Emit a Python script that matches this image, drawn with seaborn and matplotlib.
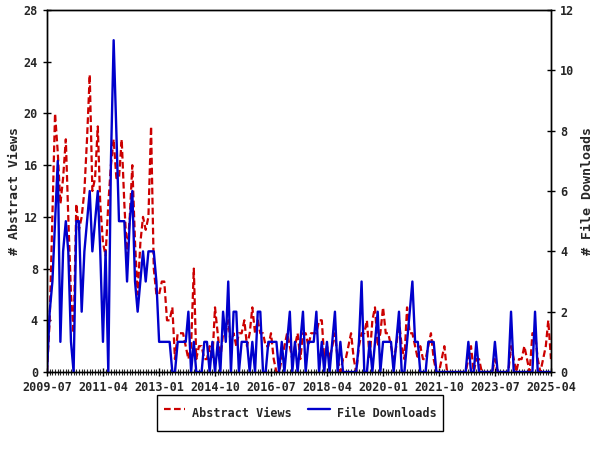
import matplotlib
matplotlib.use('Agg')
import matplotlib.pyplot as plt
import seaborn as sns
import pandas as pd

# monthly counts, 2009-07 .. 2025-04 (190 months)
views = [0, 4, 12, 20, 17, 13, 15, 18, 12, 6,
         3, 13, 11, 12, 14, 18, 23, 14, 15, 19,
         13, 10, 9, 13, 16, 18, 15, 15, 18, 13,
         9, 12, 16, 10, 6, 10, 12, 11, 12, 19,
         8, 6, 6, 7, 7, 4, 4, 5, 1, 3,
         3, 3, 2, 1, 2, 8, 1, 2, 2, 1,
         1, 2, 1, 5, 3, 1, 3, 3, 4, 2,
         3, 2, 3, 3, 4, 2, 3, 5, 3, 4,
         3, 3, 2, 2, 3, 1, 0, 0, 1, 2,
         3, 2, 1, 2, 3, 1, 3, 3, 2, 3,
         3, 3, 4, 4, 1, 2, 1, 2, 3, 1,
         0, 1, 1, 2, 3, 1, 0, 2, 3, 3,
         4, 1, 4, 5, 2, 3, 5, 3, 3, 2,
         1, 2, 4, 2, 1, 5, 3, 3, 2, 1,
         2, 1, 1, 2, 3, 1, 0, 0, 1, 2,
         0, 0, 0, 0, 0, 0, 0, 0, 1, 2,
         0, 1, 1, 0, 0, 0, 0, 0, 1, 0,
         0, 0, 0, 0, 2, 1, 0, 1, 1, 2,
         1, 0, 3, 3, 1, 0, 1, 2, 4, 1]

downloads = [0, 2, 3, 5, 7, 1, 4, 5, 4, 1,
             0, 5, 5, 2, 4, 5, 6, 4, 5, 6,
             4, 1, 4, 0, 7, 11, 8, 5, 5, 5,
             3, 5, 6, 3, 2, 3, 4, 3, 4, 4,
             4, 3, 1, 1, 1, 1, 1, 0, 0, 1,
             1, 1, 1, 2, 0, 1, 0, 0, 0, 1,
             1, 0, 1, 0, 1, 0, 2, 1, 3, 0,
             2, 2, 0, 1, 1, 1, 0, 1, 0, 2,
             2, 0, 0, 1, 1, 1, 1, 0, 1, 0,
             1, 2, 0, 1, 0, 1, 2, 0, 1, 1,
             1, 2, 0, 1, 0, 1, 0, 1, 2, 0,
             1, 0, 0, 0, 0, 0, 0, 1, 3, 0,
             0, 1, 0, 1, 2, 0, 1, 1, 1, 1,
             0, 1, 2, 0, 0, 1, 2, 3, 1, 1,
             0, 0, 0, 1, 1, 1, 0, 0, 0, 0,
             0, 0, 0, 0, 0, 0, 0, 0, 1, 0,
             0, 1, 0, 0, 0, 0, 0, 0, 1, 0,
             0, 0, 0, 0, 2, 0, 0, 0, 0, 0,
             0, 0, 0, 2, 0, 0, 0, 0, 0, 0]

series_names = ['Abstract Views', 'File Downloads']
views_ticks = [0, 4, 8, 12, 16, 20, 24, 28]
downloads_ticks = [0, 2, 4, 6, 8, 10, 12]

months = pd.date_range('2009-07-01', periods=len(views), freq='MS')
df = pd.DataFrame({'month': months, 'views': views, 'downloads': downloads})

sns.set_style('ticks')
plt.rcParams['font.family'] = ['DejaVu Sans Mono']
plt.rcParams['font.weight'] = 'bold'
plt.rcParams['axes.labelweight'] = 'bold'

fig = plt.figure(figsize=(6, 4.5), dpi=100)
ax = fig.add_axes([0.0783, 0.1733, 0.84, 0.8044])
sns.lineplot(data=df, x='month', y='views', ax=ax, color='#cc0000',
             lw=1.6, linestyle=(0, (3, 1.5)))
ax2 = ax.twinx()
sns.lineplot(data=df, x='month', y='downloads', ax=ax2, color='#0000cc', lw=1.7)

ax.set_xlim(months[0], months[-1])
ax.set_ylim(0, 28)
ax2.set_ylim(0, 12)
ax.set_yticks(views_ticks)
ax2.set_yticks(downloads_ticks)
major = months[::21]
ax.set_xticks(major)
ax.set_xticklabels([m.strftime('%Y-%m') for m in major])
ax.set_xticks(months, minor=True)

for a in (ax, ax2):
    a.tick_params(axis='both', which='major', direction='inout', length=6,
                  width=1, labelsize=8.5, color='black')
    a.tick_params(axis='x', which='minor', direction='inout', length=4, width=0.8)
    for s in a.spines.values():
        s.set_visible(True)
        s.set_color('black')
        s.set_linewidth(1)

ax.set_xlabel('')
ax2.set_xlabel('')
ax.set_ylabel('# ' + series_names[0], fontsize=9.5, labelpad=2)
ax2.set_ylabel('# ' + series_names[1], fontsize=9.5, labelpad=5)

leg = fig.legend([ax.lines[0], ax2.lines[0]], series_names, loc='lower center',
                 bbox_to_anchor=(0.5, 0.029), ncol=2, frameon=True, fancybox=False,
                 edgecolor='black', framealpha=1, handlelength=1.8, handletextpad=0.6,
                 columnspacing=1.4, borderpad=0.6, handleheight=2.5, fontsize=8.5)
leg.get_frame().set_linewidth(1)

fig.savefig('out.png', dpi=100)
